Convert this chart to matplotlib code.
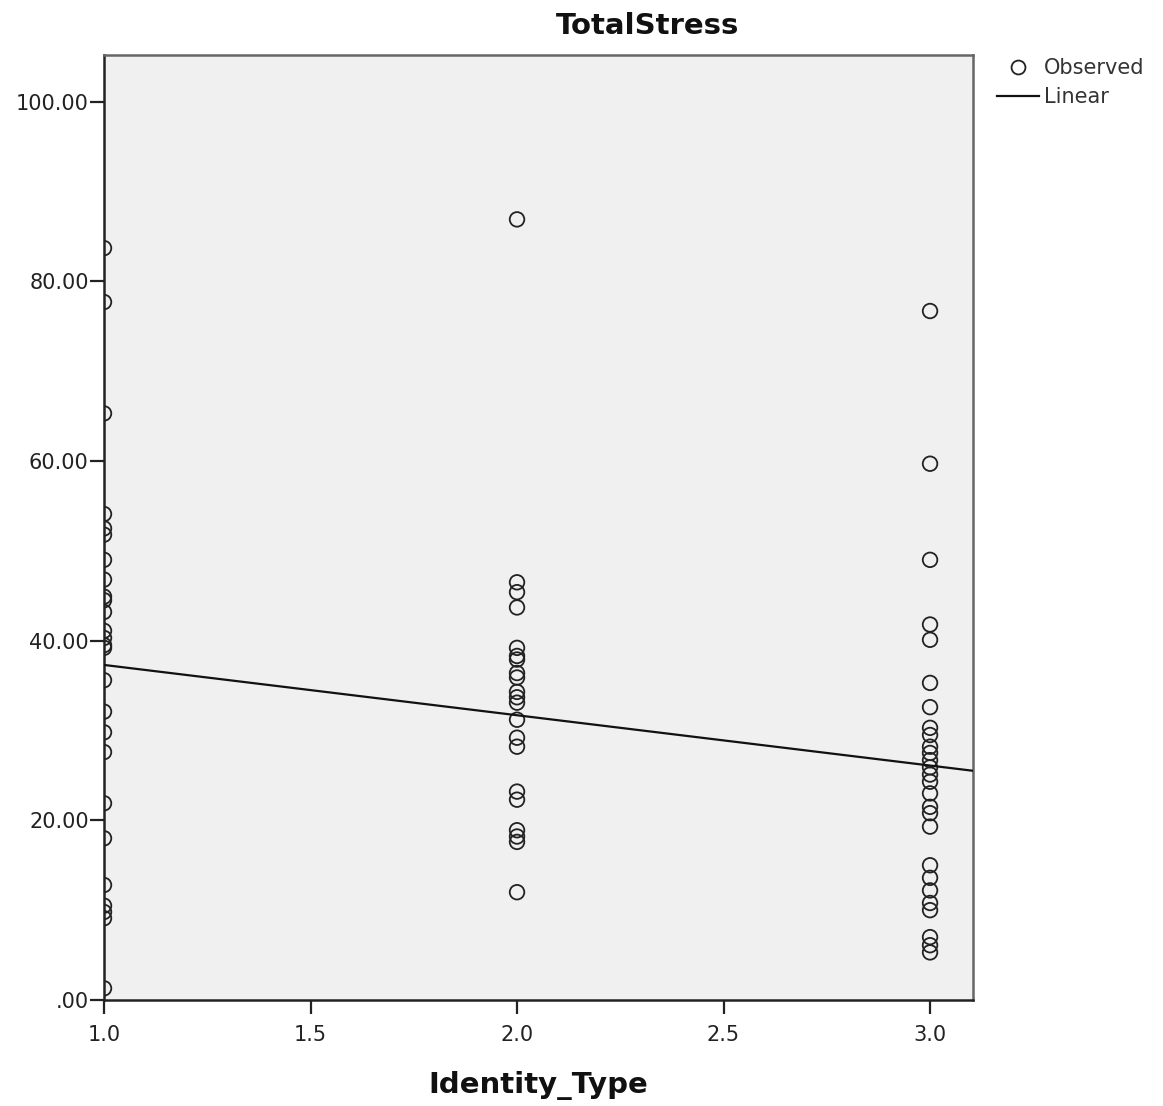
#!/usr/bin/env python3
"""Scatter of TotalStress by Identity_Type with a linear fit line."""

import matplotlib
matplotlib.use("Agg")
import matplotlib.pyplot as plt
import numpy as np
from matplotlib.lines import Line2D

plt.rcParams["font.family"] = ["DejaVu Sans"]

type1_stress = [83.7, 77.7, 65.3, 54.1, 52.5, 51.8, 49.0, 46.8, 44.9, 44.5,
                43.2, 41.1, 40.3, 39.5, 39.2, 35.6, 32.1, 29.8, 27.6, 21.9,
                18.0, 12.8, 10.5, 9.8, 9.1, 1.3]
type2_stress = [86.9, 46.5, 45.4, 43.7, 39.2, 38.3, 37.9, 36.4, 35.9, 34.3,
                33.7, 33.1, 31.2, 29.2, 28.2, 23.2, 22.3, 18.9, 18.2, 17.6, 12.0]
type3_stress = [76.7, 59.7, 49.0, 41.8, 40.1, 35.3, 32.6, 30.3, 29.5, 28.2,
                27.5, 26.7, 25.9, 25.1, 24.3, 23.0, 21.5, 20.8, 19.3, 15.0,
                13.6, 12.2, 10.8, 10.0, 7.0, 6.1, 5.3]
identity_types = [1, 2, 3]

# linear fit
fit_intercept = 42.9
fit_slope = -5.6

X_LIM = (1.0, 3.104)
Y_LIM = (0.0, 105.2)

fig = plt.figure(figsize=(11.63, 11.06), dpi=100)
ax = fig.add_axes([104 / 1163, 106 / 1106, 869 / 1163, 945 / 1106])
ax.set_facecolor("#f0f0f0")

for t, vals in zip(identity_types, [type1_stress, type2_stress, type3_stress]):
    sc = ax.scatter(np.full(len(vals), t), vals, s=110, marker="o",
                    facecolors="none", edgecolors="#222222", linewidths=1.3,
                    zorder=3)
    # clip to the plot area so the circles on x=1 are cut in half
    sc.set_clip_path(ax.patch)

xs = np.array(X_LIM)
ax.plot(xs, fit_intercept + fit_slope * xs, color="#111111", lw=1.6, zorder=4)

ax.set_xlim(*X_LIM)
ax.set_ylim(*Y_LIM)
ax.set_xticks([1.0, 1.5, 2.0, 2.5, 3.0])
ax.set_xticklabels(["1.0", "1.5", "2.0", "2.5", "3.0"])
ax.set_yticks([0, 20, 40, 60, 80, 100])
ax.set_yticklabels([".00", "20.00", "40.00", "60.00", "80.00", "100.00"])
ax.tick_params(axis="both", direction="out", length=10, width=1.6,
               color="#222222", labelsize=15, labelcolor="#222222")
ax.tick_params(axis="y", pad=1)
ax.tick_params(axis="x", pad=8)

for side in ["left", "bottom"]:
    ax.spines[side].set_color("#222222")
    ax.spines[side].set_linewidth(1.8)
for side in ["top", "right"]:
    ax.spines[side].set_color("#666666")
    ax.spines[side].set_linewidth(1.8)

fig.text(648 / 1163, 1 - 26 / 1106, "TotalStress", ha="center", va="center",
         fontsize=21, fontweight="bold", color="#111111")
fig.text(538 / 1163, 1 - 1085 / 1106, "Identity_Type", ha="center",
         va="center", fontsize=21, fontweight="bold", color="#111111")

handles = [
    Line2D([], [], ls="none", marker="o", ms=10, mfc="none", mec="#222222",
           mew=1.3, label="Observed"),
    Line2D([], [], color="#111111", lw=1.6, label="Linear"),
]
fig.legend(handles=handles, loc="upper left",
           bbox_to_anchor=(997 / 1163, 1 - 58 / 1106), frameon=False,
           fontsize=15, handlelength=2.0, handletextpad=0.25,
           labelspacing=0.45, borderaxespad=0, borderpad=0,
           labelcolor="#333333")

fig.savefig("out.png", dpi=100)
